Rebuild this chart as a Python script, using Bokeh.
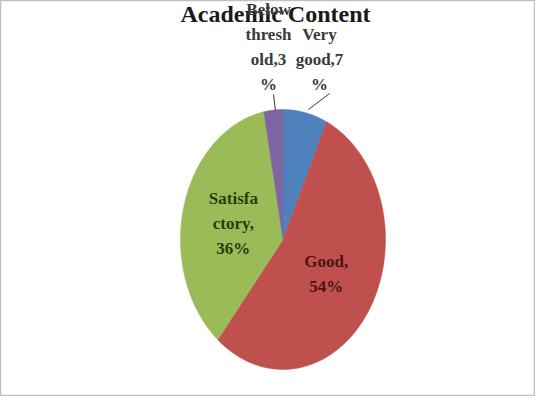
import numpy as np
from bokeh.plotting import figure
from bokeh.models import Range1d, ColumnDataSource
from bokeh.core.properties import value
from bokeh.embed import file_html
from bokeh.resources import INLINE

# ---- data ----
title = "Academic Content"
categories = ["Very good", "Good", "Satisfactory", "Below threshold"]
percents = [7, 54, 36, 3]
colors = ["#4F81BD", "#C0504D", "#9BBB59", "#8064A2"]
label_lines = [["Very", "good,7", "%"], ["Good,", "54%"], ["Satisfa", "ctory,", "36%"], ["Below", "thresh", "old,3", "%"]]
label_colors = ["#3a3a3a", "#4d1414", "#263d0c", "#3a3a3a"]

W, H = 535, 396
# pie geometry in screen px (page coords)
CX, CY, RX, RY = 290.5, 247.0, 102.5, 130.0

def px2x(sx):
    return (sx - CX) / RX

def px2y(sy):
    return (CY - sy) / RY

p = figure(width=W, height=H, output_backend="svg", toolbar_location=None,
           x_range=Range1d(px2x(8), px2x(8 + W)), y_range=Range1d(px2y(8 + H), px2y(8)),
           min_border=0, outline_line_color="#c0c0c0", outline_line_width=1.5,
           background_fill_color="white", border_fill_color="white")
p.axis.visible = False
p.grid.visible = False

# slices as elliptical patches (angle clockwise from 12 o'clock)
total = float(sum(percents))
cum = np.cumsum([0] + percents) / total * 2 * np.pi
xs, ys, mids = [], [], []
for i in range(len(percents)):
    t = np.linspace(cum[i], cum[i + 1], 80)
    xs.append(np.concatenate([[0.0], np.sin(t), [0.0]]))
    ys.append(np.concatenate([[0.0], np.cos(t), [0.0]]))
    mids.append((cum[i] + cum[i + 1]) / 2)
src = ColumnDataSource(dict(xs=xs, ys=ys, color=colors))
p.patches("xs", "ys", source=src, fill_color="color", line_color="color", line_width=0.5)

FONT = value("Liberation Serif")
LH = 25  # line height px

def put_lines(lines, sx_center, sy_first, color):
    for k, ln in enumerate(lines):
        p.text(x=[px2x(sx_center)], y=[px2y(sy_first + k * LH)], text=[ln],
               text_font=FONT, text_font_style="bold", text_font_size="17px",
               text_color=color, text_align="center", text_baseline="middle")

# title
p.text(x=[px2x(283)], y=[px2y(21)], text=[title], text_font=FONT, text_font_style="bold",
       text_font_size="24px", text_color="#1a1a1a", text_align="center", text_baseline="middle")

# inside labels (Good, Satisfactory) at half radius along slice mid-angle
for i in (1, 2):
    m = mids[i]
    lx = 0.5 * np.sin(m)
    ly = 0.5 * np.cos(m)
    sx = CX + lx * RX
    sy = CY - ly * RY
    n = len(label_lines[i])
    put_lines(label_lines[i], sx, sy - (n - 1) * LH / 2, label_colors[i])

# outside labels (Very good, Below threshold) above the pie with leader lines
put_lines(label_lines[0], 327, 42, label_colors[0])
put_lines(label_lines[3], 276, 17, label_colors[3])
p.line(x=[px2x(337), px2x(316)], y=[px2y(101), px2y(117)], line_color="#333333", line_width=1)
p.line(x=[px2x(281), px2x(283)], y=[px2y(102), px2y(118)], line_color="#333333", line_width=1)

open("out.html", "w").write(file_html(p, INLINE))
